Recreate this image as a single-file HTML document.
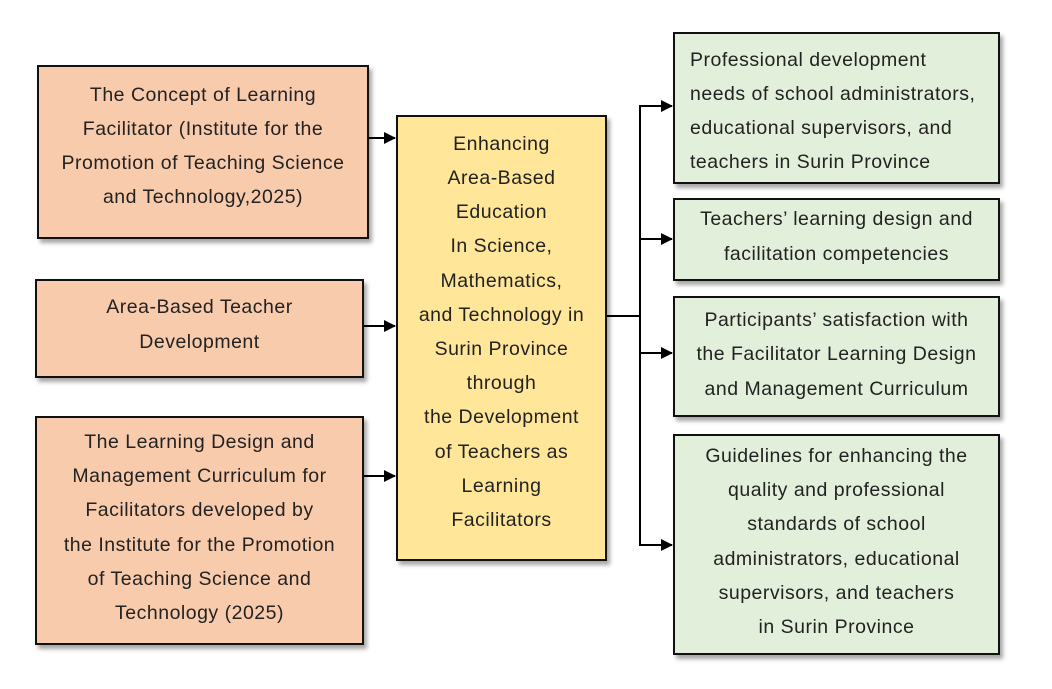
<!DOCTYPE html>
<html><head><meta charset="utf-8"><style>
body{margin:0;width:1052px;height:689px;background:#fff;position:relative;overflow:hidden;font-family:"Liberation Sans","DejaVu Sans",sans-serif;font-size:19.5px;letter-spacing:0.5px;color:#222;}
.b{position:absolute;box-sizing:border-box;border:2px solid #111;box-shadow:3px 4px 4px rgba(0,0,0,.35);display:flex;align-items:center;justify-content:center;text-align:center;line-height:34.2px;white-space:nowrap;}
.o{background:#f8cbad}.y{background:#ffe699}.g{background:#e2efda}
svg{position:absolute;left:0;top:0}
</style></head><body>
<svg width="1052" height="689">
<defs><marker id="a" markerWidth="12" markerHeight="12" refX="11" refY="6" orient="auto" markerUnits="userSpaceOnUse"><path d="M0,0 L12,6 L0,12 z" fill="#000"/></marker></defs>
<g stroke="#000" stroke-width="2" fill="none">
<line x1="368" y1="138" x2="395" y2="138" marker-end="url(#a)"/>
<line x1="363" y1="326" x2="395" y2="326" marker-end="url(#a)"/>
<line x1="363" y1="476" x2="395" y2="476" marker-end="url(#a)"/>
<line x1="606" y1="316" x2="640" y2="316"/>
<line x1="640" y1="105" x2="640" y2="546"/>
<line x1="640" y1="106" x2="672" y2="106" marker-end="url(#a)"/>
<line x1="640" y1="239" x2="672" y2="239" marker-end="url(#a)"/>
<line x1="640" y1="353" x2="672" y2="353" marker-end="url(#a)"/>
<line x1="640" y1="545" x2="672" y2="545" marker-end="url(#a)"/>
</g></svg>
<div class="b o" style="left:37px;top:65px;width:332px;height:174px;padding-bottom:12px">The Concept of Learning<br>Facilitator (Institute for the<br>Promotion of Teaching Science<br>and Technology,2025)</div>
<div class="b o" style="left:35px;top:279px;width:329px;height:99px;padding-bottom:8px">Area-Based Teacher<br>Development</div>
<div class="b o" style="left:35px;top:416px;width:329px;height:229px;padding-bottom:6px">The Learning Design and<br>Management Curriculum for<br>Facilitators developed by<br>the Institute for the Promotion<br>of Teaching Science and<br>Technology (2025)</div>
<div class="b y" style="left:396px;top:115px;width:211px;height:446px;padding-bottom:12px">Enhancing<br>Area-Based<br>Education<br>In Science,<br>Mathematics,<br>and Technology in<br>Surin Province<br>through<br>the Development<br>of Teachers as<br>Learning<br>Facilitators</div>
<div class="b g" style="left:673px;top:32px;width:327px;height:152px;justify-content:flex-start;text-align:left;padding-left:15px;padding-top:6px">Professional development<br>needs of school administrators,<br>educational supervisors, and<br>teachers in Surin Province</div>
<div class="b g" style="left:673px;top:198px;width:327px;height:83px;padding-bottom:6px">Teachers’ learning design and<br>facilitation competencies</div>
<div class="b g" style="left:673px;top:296px;width:327px;height:121px;padding-bottom:4px">Participants’ satisfaction with<br>the Facilitator Learning Design<br>and Management Curriculum</div>
<div class="b g" style="left:673px;top:434px;width:327px;height:221px;padding-bottom:6px">Guidelines for enhancing the<br>quality and professional<br>standards of school<br>administrators, educational<br>supervisors, and teachers<br>in Surin Province</div>
</body></html>
